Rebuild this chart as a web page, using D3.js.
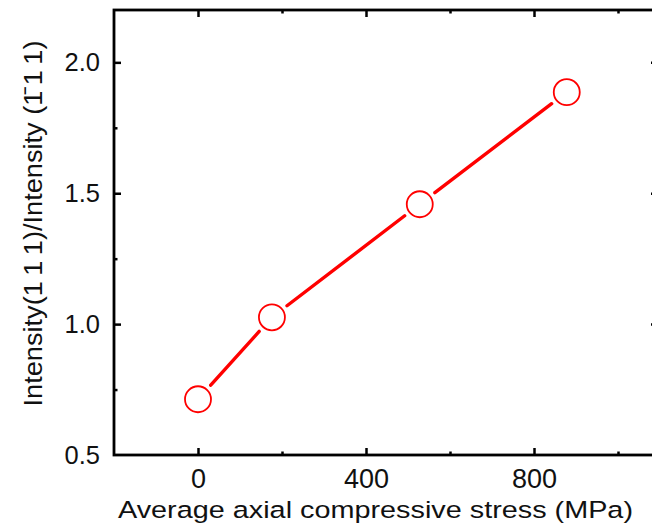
<!DOCTYPE html>
<html>
<head>
<meta charset="utf-8">
<script src="https://cdn.jsdelivr.net/npm/d3@7"></script>
<style>
  body { margin: 0; background: #fff; }
  svg text { font-family: "Liberation Sans", Arial, sans-serif; fill: #111; }
</style>
</head>
<body>
<script>
// values
var stress = [0, 176, 528, 878];
var ratio = [0.713, 1.026, 1.458, 1.886];
var xTicks = [0, 400, 800];
var xMinor = [200, 600, 1000];
var yTicks = [0.5, 1.0, 1.5, 2.0];
var yMinor = [0.75, 1.25, 1.75];

var W = 652, H = 529;
var margin = { top: 10, right: -8, bottom: 74, left: 114 };
var width = W - margin.left - margin.right,
  height = H - margin.top - margin.bottom;

var x = d3.scaleLinear().domain([-200, 1100]).range([0, width]);
var y = d3.scaleLinear().domain([0.5, 2.2]).range([height, 0]);

var svg = d3.select("body").append("svg")
  .attr("width", W)
  .attr("height", H);

var g = svg.append("g")
  .attr("transform", "translate(" + margin.left + "," + margin.top + ")");

// inward ticks on four sides
function addTicks(axis, sel) {
  sel.call(axis);
  sel.select(".domain").remove();
  sel.selectAll(".tick line").attr("stroke", "#000").attr("stroke-width", 2.5);
}

var bottomAx = g.append("g").attr("transform", "translate(0," + height + ")");
addTicks(d3.axisBottom(x).tickValues(xTicks).tickSizeInner(-7).tickSizeOuter(0).tickPadding(14).tickFormat(d3.format("d")), bottomAx);
bottomAx.selectAll(".tick text").attr("font-size", 27).attr("dy", "0.71em");
var bottomMinor = g.append("g").attr("transform", "translate(0," + height + ")");
addTicks(d3.axisBottom(x).tickValues(xMinor).tickSize(-3.5).tickFormat(""), bottomMinor);

var topAx = g.append("g");
addTicks(d3.axisTop(x).tickValues(xTicks).tickSize(-7).tickFormat(""), topAx);
var topMinor = g.append("g");
addTicks(d3.axisTop(x).tickValues(xMinor).tickSize(-3.5).tickFormat(""), topMinor);

var leftAx = g.append("g");
addTicks(d3.axisLeft(y).tickValues(yTicks).tickSizeInner(-7).tickSizeOuter(0).tickPadding(14).tickFormat(d3.format(".1f")), leftAx);
leftAx.selectAll(".tick text").attr("font-size", 25.5);
leftAx.selectAll(".tick").filter(function (d) { return d === 0.5; }).select("line").remove();
var leftMinor = g.append("g");
addTicks(d3.axisLeft(y).tickValues(yMinor).tickSize(-3.5).tickFormat(""), leftMinor);

var rightAx = g.append("g").attr("transform", "translate(" + width + ",0)");
addTicks(d3.axisRight(y).tickValues(yTicks.slice(1)).tickSize(-9).tickFormat(""), rightAx);

// frame
g.append("rect")
  .attr("width", width)
  .attr("height", height)
  .attr("fill", "none")
  .attr("stroke", "#000")
  .attr("stroke-width", 2.8);

// data: segments with gaps next to the markers
var pts = stress.map(function (s, i) { return [x(s), y(ratio[i])]; });
var r = 13, gap = 19;
var segs = d3.pairs(pts).map(function (p) {
  var dx = p[1][0] - p[0][0], dy = p[1][1] - p[0][1];
  var len = Math.sqrt(dx * dx + dy * dy);
  var ux = dx / len, uy = dy / len;
  return [[p[0][0] + ux * gap, p[0][1] + uy * gap], [p[1][0] - ux * gap, p[1][1] - uy * gap]];
});

g.selectAll(".seg")
  .data(segs)
  .enter().append("line")
  .attr("class", "seg")
  .attr("x1", function (d) { return d[0][0]; })
  .attr("y1", function (d) { return d[0][1]; })
  .attr("x2", function (d) { return d[1][0]; })
  .attr("y2", function (d) { return d[1][1]; })
  .attr("stroke", "#f00")
  .attr("stroke-width", 3.4)
  .attr("stroke-linecap", "round");

g.selectAll(".pt")
  .data(pts)
  .enter().append("circle")
  .attr("class", "pt")
  .attr("cx", function (d) { return d[0]; })
  .attr("cy", function (d) { return d[1]; })
  .attr("r", r)
  .attr("fill", "none")
  .attr("stroke", "#f00")
  .attr("stroke-width", 1.8);

// axis titles
svg.append("text")
  .attr("x", 375.5)
  .attr("y", 518)
  .attr("text-anchor", "middle")
  .attr("font-size", 24.5)
  .attr("textLength", 515)
  .attr("lengthAdjust", "spacingAndGlyphs")
  .text("Average axial compressive stress (MPa)");

svg.append("text")
  .attr("transform", "translate(41.5,223.5) rotate(-90)")
  .attr("text-anchor", "middle")
  .attr("font-size", 25)
  .attr("textLength", 366)
  .attr("lengthAdjust", "spacingAndGlyphs")
  .text("Intensity(1\u20091\u20091)/Intensity (1\u0304\u20091\u20091)");
</script>
</body>
</html>
